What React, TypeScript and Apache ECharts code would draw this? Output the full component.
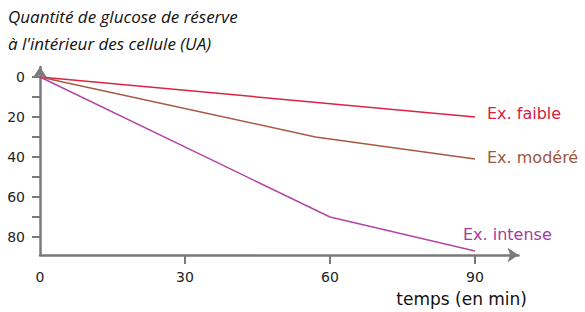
import React, { useEffect, useRef } from "react";
import * as echarts from "echarts";

// Data
const seriesNames = ["Ex. faible", "Ex. modéré", "Ex. intense"];
const timeFaible = [0, 90];
const valuesFaible = [0, 20];
const timeModere = [0, 57, 90];
const valuesModere = [0, 30, 41];
const timeIntense = [0, 60, 90];
const valuesIntense = [0, 70, 87];

const xTickLabels = [0, 30, 60, 90];
const xTickMarks = [30, 60, 90];
const yTickLabels = [0, 20, 40, 60, 80];
const yTickMarks = [0, 10, 20, 30, 40, 50, 60, 70, 80];

const titleLine1 = "Quantité de glucose de réserve";
const titleLine2 = "à l'intérieur des cellule (UA)";
const xAxisName = "temps (en min)";

const lineColors = ["#dc2343", "#a65a42", "#b444a6"];
const labelColors = ["#d7203f", "#9c553e", "#a83a9c"];

const pairs = (xs: number[], ys: number[]) => xs.map((x, i) => [x, ys[i]]);

export default function App() {
  const ref = useRef<HTMLDivElement>(null);
  useEffect(() => {
    if (!ref.current) return;
    const chart = echarts.init(ref.current, null, { renderer: "svg" });
    const axisColor = "#7a7a7a";
    const labelFont = { fontFamily: "DejaVu Sans", fontSize: 14, color: "#222" };
    const mk = (idx: number, xs: number[], ys: number[], offset: number[]) => ({
      type: "line",
      name: seriesNames[idx],
      data: pairs(xs, ys),
      showSymbol: false,
      symbol: "none",
      lineStyle: { color: lineColors[idx], width: 1.5 },
      itemStyle: { color: lineColors[idx] },
      endLabel: {
        show: true,
        formatter: "{a}",
        offset,
        fontFamily: "DejaVu Sans",
        fontSize: 16,
        color: labelColors[idx],
      },
    });
    chart.setOption({
      animation: false,
      backgroundColor: "#ffffff",
      grid: { left: 40, top: 67, width: 478.5, height: 188, outerBoundsMode: "none" },
      xAxis: {
        type: "value",
        position: "bottom",
        min: 0,
        max: 99,
        splitLine: { show: false },
        axisLine: {
          show: true,
          onZero: false,
          lineStyle: { color: axisColor, width: 2.5 },
          symbol: ["none", "arrow"],
          symbolSize: [11, 11],
        },
        axisTick: {
          show: true,
          customValues: xTickMarks,
          length: 9,
          lineStyle: { color: axisColor, width: 2 },
        },
        axisLabel: { customValues: xTickLabels, margin: 15, ...labelFont },
      },
      yAxis: {
        type: "value",
        inverse: true,
        min: -5,
        max: 89,
        splitLine: { show: false },
        axisLine: {
          show: true,
          onZero: false,
          lineStyle: { color: axisColor, width: 2.5 },
          symbol: ["none", "arrow"],
          symbolSize: [11, 11],
        },
        axisTick: {
          show: true,
          customValues: yTickMarks,
          length: 8,
          lineStyle: { color: axisColor, width: 2 },
        },
        axisLabel: { customValues: yTickLabels, margin: 15, ...labelFont },
      },
      series: [
        mk(0, timeFaible, valuesFaible, [4, -4]),
        mk(1, timeModere, valuesModere, [4, -2]),
        mk(2, timeIntense, valuesIntense, [-20, -17]),
      ],
      graphic: [
        {
          type: "text",
          left: 8,
          top: 8,
          style: {
            text: titleLine1,
            fontFamily: "Open Sans",
            fontStyle: "italic",
            fontSize: 17,
            fill: "#111",
          },
        },
        {
          type: "text",
          left: 8,
          top: 35,
          style: {
            text: titleLine2,
            fontFamily: "Open Sans",
            fontStyle: "italic",
            fontSize: 17,
            fill: "#111",
          },
        },
        {
          type: "text",
          right: 58,
          top: 290,
          style: {
            text: xAxisName,
            fontFamily: "DejaVu Sans",
            fontSize: 17,
            fill: "#111",
          },
        },
      ],
    });
    return () => chart.dispose();
  }, []);
  return (
    <div
      ref={ref}
      style={{ position: "fixed", left: 0, top: 0, width: 585, height: 312 }}
    />
  );
}
